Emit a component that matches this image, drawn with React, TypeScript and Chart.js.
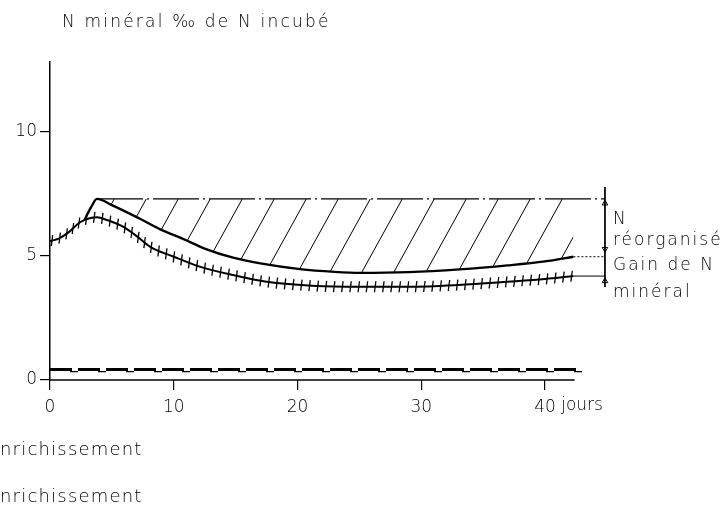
import React, { useEffect, useRef } from "react";
import { Chart, registerables } from "chart.js";

Chart.register(...registerables);

const FONT = "'DejaVu Sans', 'Liberation Sans', sans-serif";
const WEIGHT = 200;

// ---- axes ----
const xTickValues = [0, 10, 20, 30, 40];
const xTickLabels = ["0", "10", "20", "30", "40"];
const xUnit = "jours";
const yTickValues = [0, 5, 10];
const yTickLabels = ["0", "5", "10"];
const yTitle = "N minéral ‰ de N incubé";

// ---- curve with cross ticks (N minéral mesuré) ----
const crossX = [0, 0.7, 1.5, 2.4, 3.2, 3.8, 4.6, 5.9, 7, 8.1, 10, 12.1, 14.8, 17.5, 21.5, 25, 29, 33, 37, 40, 42.3];
const crossY = [5.6, 5.7, 5.95, 6.35, 6.52, 6.56, 6.45, 6.18, 5.8, 5.37, 4.97, 4.57, 4.23, 3.96, 3.79, 3.76, 3.76, 3.83, 3.96, 4.07, 4.19];

// ---- upper solid curve ----
const upperX = [2.8, 3.3, 3.8, 5, 7.3, 9, 10.75, 12.5, 14.8, 17, 20.2, 23, 25.05, 29, 33.1, 37, 40, 42.3];
const upperY = [6.47, 6.95, 7.3, 7.05, 6.49, 6.05, 5.69, 5.3, 4.93, 4.7, 4.47, 4.36, 4.32, 4.35, 4.46, 4.62, 4.78, 4.97];

// ---- reference level (dash-dot) and bracket ----
const refLevelX = [3.8, 44.85];
const refLevelY = [7.3, 7.3];
const hatchX = [3.8, 42.3];
const hatchY = [7.3, 7.3];
const gainX = [42.3, 44.85];
const gainY = [4.97, 4.97];
const mineralX = [42.3, 44.85];
const mineralY = [4.19, 4.19];
const bracketX = [44.85, 44.85];
const bracketY = [7.78, 3.75];
const arrowX = [44.85, 44.85, 44.85];
const arrowY = [7.12, 5.28, 3.99];
const arrowRot = [0, 180, 0];

// ---- control (sans enrichissement) near zero ----
const ctrlX = [0, 43];
const ctrlThickY = [0.42, 0.42];
const ctrlThinY = [0.34, 0.34];
const axisX = [0, 42.4];
const axisY = [0, 0];

// ---- labels ----
const bracketLabels = ["N", "réorganisé", "Gain de N", "minéral"];
const legendLabels = ["nrichissement", "nrichissement"];

const pts = (xs: number[], ys: number[]) => xs.map((x, i) => ({ x, y: ys[i] }));

function makeHatch(): CanvasPattern | string {
  const c = document.createElement("canvas");
  c.width = 32;
  c.height = 58;
  const g = c.getContext("2d");
  if (!g) return "rgba(0,0,0,0.1)";
  g.strokeStyle = "#000";
  g.lineWidth = 1;
  for (const off of [-32, 0, 32]) {
    g.beginPath();
    g.moveTo(off, 58);
    g.lineTo(off + 32, 0);
    g.stroke();
  }
  return g.createPattern(c, "repeat") as CanvasPattern;
}

const crossTickPlugin = {
  id: "crossTicks",
  afterDatasetsDraw(chart: any) {
    const idx = chart.data.datasets.findIndex((d: any) => d.crossTicks);
    if (idx < 0) return;
    const meta = chart.getDatasetMeta(idx);
    const p = meta.data as any[];
    if (!p.length) return;
    const ctx = chart.ctx as CanvasRenderingContext2D;
    const spacing = 8.2;
    const half = 5.5;
    ctx.save();
    ctx.strokeStyle = "#000";
    ctx.lineWidth = 1.3;
    let remaining = 2;
    let prev = { x: p[0].x, y: p[0].y };
    const tick = (x: number, y: number) => {
      ctx.beginPath();
      ctx.moveTo(x + 0.7, y - half);
      ctx.lineTo(x - 0.7, y + half);
      ctx.stroke();
    };
    for (let i = 0; i < p.length - 1; i++) {
      const a = p[i];
      const b = p[i + 1];
      const c1x = a.cp2x ?? a.x, c1y = a.cp2y ?? a.y;
      const c2x = b.cp1x ?? b.x, c2y = b.cp1y ?? b.y;
      const N = 24;
      for (let s = 1; s <= N; s++) {
        const t = s / N, u = 1 - t;
        const cx = u * u * u * a.x + 3 * u * u * t * c1x + 3 * u * t * t * c2x + t * t * t * b.x;
        const cy = u * u * u * a.y + 3 * u * u * t * c1y + 3 * u * t * t * c2y + t * t * t * b.y;
        const d = Math.hypot(cx - prev.x, cy - prev.y);
        let pos = 0;
        while (d > 0 && remaining <= d - pos) {
          pos += remaining;
          const f = pos / d;
          tick(prev.x + (cx - prev.x) * f, prev.y + (cy - prev.y) * f);
          remaining = spacing;
        }
        remaining -= d - pos;
        prev = { x: cx, y: cy };
      }
    }
    ctx.restore();
  },
};

const unitPlugin = {
  id: "unitLabel",
  afterDraw(chart: any) {
    const xs = chart.scales.x;
    const ctx = chart.ctx as CanvasRenderingContext2D;
    ctx.save();
    ctx.font = `${WEIGHT} 17px ${FONT}`;
    ctx.fillStyle = "#000";
    ctx.textAlign = "left";
    ctx.textBaseline = "top";
    const last = xTickValues[xTickValues.length - 1];
    const lx = xs.getPixelForValue(last);
    const w = ctx.measureText(xTickLabels[xTickLabels.length - 1]).width;
    ctx.fillText(" " + xUnit, lx + w / 2, xs.top + 10 + 7);
    ctx.restore();
  },
};

export default function App() {
  const ref = useRef<HTMLCanvasElement | null>(null);

  useEffect(() => {
    if (!ref.current) return;
    const hatch = makeHatch();
    const base = { pointRadius: 0, borderColor: "#000", fill: false, clip: false as any };
    const chart = new Chart(ref.current, {
      type: "line",
      data: {
        datasets: [
          { ...base, data: pts(hatchX, hatchY), borderWidth: 0, fill: "+1", backgroundColor: hatch as any },
          { ...base, data: pts(upperX, upperY), borderWidth: 2.4, tension: 0.4, cubicInterpolationMode: "monotone" },
          { ...base, data: pts(crossX, crossY), borderWidth: 2, tension: 0.4, cubicInterpolationMode: "monotone", crossTicks: true } as any,
          { ...base, data: pts(refLevelX, refLevelY), borderWidth: 1.1, borderDash: [46, 4, 2, 4] },
          { ...base, data: pts(gainX, gainY), borderWidth: 1, borderDash: [2, 2] },
          { ...base, data: pts(mineralX, mineralY), borderWidth: 1 },
          { ...base, data: pts(bracketX, bracketY), borderWidth: 1 },
          {
            ...base,
            data: pts(arrowX, arrowY),
            showLine: false,
            pointRadius: 3.2,
            pointStyle: "triangle",
            rotation: arrowRot,
            pointBackgroundColor: "#fff",
            pointBorderColor: "#000",
            pointBorderWidth: 1,
          } as any,
          { ...base, data: pts(ctrlX, ctrlThickY), borderWidth: 3, borderDash: [22, 6] },
          { ...base, data: pts(ctrlX, ctrlThinY), borderWidth: 1.2, borderDash: [8, 20], borderDashOffset: -20 },
          { ...base, data: pts(axisX, axisY), borderWidth: 1.5 },
        ],
      },
      options: {
        animation: false,
        responsive: false,
        events: [],
        layout: { padding: { top: 62, right: 22, left: 0, bottom: 0 } },
        plugins: { legend: { display: false }, tooltip: { enabled: false }, title: { display: false } },
        scales: {
          x: {
            type: "linear",
            min: 0,
            max: 52.53,
            afterBuildTicks: (s: any) => {
              s.ticks = xTickValues.map((v) => ({ value: v }));
            },
            afterFit: (s: any) => {
              s.height = 127;
            },
            grid: { display: true, drawOnChartArea: false, drawTicks: true, tickLength: 10, color: "#000", lineWidth: 1.2 },
            border: { display: false },
            ticks: {
              autoSkip: false,
              maxRotation: 0,
              padding: 7,
              color: "#000",
              font: { family: FONT, size: 17, weight: WEIGHT as any },
              callback: (v: any) => xTickLabels[xTickValues.indexOf(Number(v))] ?? "",
            },
          },
          y: {
            type: "linear",
            min: 0,
            max: 12.82,
            afterBuildTicks: (s: any) => {
              s.ticks = yTickValues.map((v) => ({ value: v }));
            },
            afterFit: (s: any) => {
              s.width = 50;
            },
            grid: { display: true, drawOnChartArea: false, drawTicks: true, tickLength: 10, color: "#000", lineWidth: 1.2 },
            border: { display: true, color: "#000", width: 1.5 },
            ticks: {
              padding: 3,
              color: "#000",
              font: { family: FONT, size: 17, weight: WEIGHT as any },
              callback: (v: any) => yTickLabels[yTickValues.indexOf(Number(v))] ?? "",
            },
          },
        },
      },
      plugins: [crossTickPlugin, unitPlugin],
    });
    return () => chart.destroy();
  }, []);

  const txt = (baseline: number, left: number, size: number, spacing: number): React.CSSProperties => ({
    position: "absolute",
    left,
    top: baseline - 0.846 * size,
    fontFamily: FONT,
    fontWeight: WEIGHT,
    fontSize: size,
    lineHeight: 1,
    letterSpacing: spacing,
    whiteSpace: "nowrap",
    color: "#000",
  });

  const bracketBaselines = [224, 245, 270, 297];
  const legendBaselines = [455, 502];

  return (
    <div style={{ position: "fixed", left: 0, top: 0, width: 722, height: 507, background: "#fff", overflow: "hidden" }}>
      <canvas ref={ref} width={722} height={507} style={{ position: "absolute", left: 0, top: 0, width: 722, height: 507 }} />
      <div style={txt(27, 62, 17, 2.2)}>{yTitle}</div>
      {bracketLabels.map((t, i) => (
        <div key={i} style={txt(bracketBaselines[i], 613, 17, 2)}>{t}</div>
      ))}
      {legendLabels.map((t, i) => (
        <div key={"l" + i} style={txt(legendBaselines[i], 0, 18, 1.2)}>{t}</div>
      ))}
    </div>
  );
}
